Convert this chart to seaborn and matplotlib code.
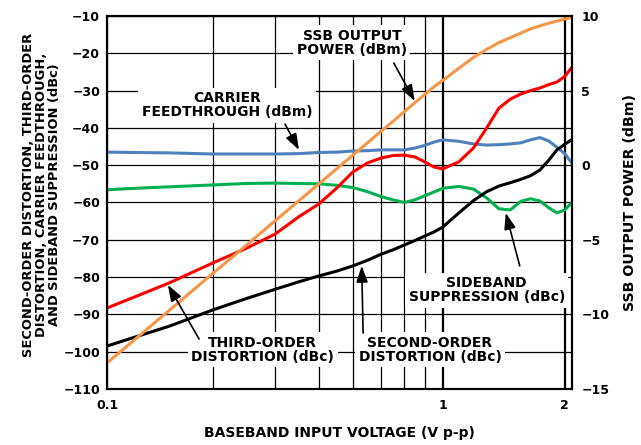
import matplotlib
matplotlib.use("Agg")
import matplotlib.pyplot as plt
from matplotlib.ticker import FixedLocator, FixedFormatter, NullFormatter
import seaborn as sns

# baseband input voltage (V p-p)
vpp = [0.1, 0.12, 0.15, 0.2, 0.25, 0.3, 0.35, 0.4, 0.45, 0.5,
       0.55, 0.6, 0.65, 0.7, 0.75, 0.8, 0.85, 0.9, 1.0, 1.1,
       1.2, 1.3, 1.4, 1.5, 1.6, 1.7, 1.8, 1.9, 2.0, 2.09]

# right axis (dBm)
ssb_power = [-13.26, -11.68, -9.75, -7.25, -5.33, -3.74, -2.41, -1.25, -0.23, 0.68,
             1.50, 2.26, 2.94, 3.59, 4.19, 4.75, 5.26, 5.68, 6.50, 7.22,
             7.77, 8.22, 8.55, 8.85, 9.14, 9.34, 9.52, 9.66, 9.80, 9.91]

# left axis (dBc / dBm)
third_order = [-88.3, -85.3, -81.6, -76.2, -72.2, -68.5, -63.9, -60.4, -56.1, -51.8,
               -49.4, -48.1, -47.4, -47.3, -47.8, -49.1, -50.5, -51.0, -49.1, -45.4,
               -40.0, -34.7, -32.3, -30.9, -30.0, -29.3, -28.4, -27.7, -26.2, -23.9]
carrier = [-46.5, -46.6, -46.7, -47.0, -47.0, -47.0, -46.9, -46.6, -46.5, -46.2,
           -46.1, -45.9, -45.9, -45.9, -45.4, -44.7, -43.8, -43.2, -43.6, -44.3,
           -44.6, -44.5, -44.3, -44.0, -43.2, -42.6, -43.5, -45.2, -46.9, -49.3]
sideband = [-56.6, -56.2, -55.8, -55.3, -54.9, -54.8, -54.9, -55.0, -55.4, -56.0,
            -57.1, -58.4, -59.3, -60.0, -59.3, -58.2, -57.2, -56.2, -55.7, -56.4,
            -58.8, -61.7, -62.0, -59.7, -59.0, -59.6, -61.4, -62.8, -62.0, -60.1]
second_order = [-98.5, -96.1, -93.2, -88.8, -85.7, -83.3, -81.3, -79.7, -78.4, -77.0,
                -75.5, -73.9, -72.7, -71.4, -70.2, -69.0, -67.9, -66.6, -62.8, -59.5,
                -57.1, -55.6, -54.7, -53.8, -52.8, -51.3, -48.7, -45.9, -44.4, -43.2]

sns.set_style("white")
plt.rcParams["font.family"] = ["DejaVu Sans"]
plt.rcParams["font.weight"] = "bold"
plt.rcParams["axes.labelweight"] = "bold"
plt.rcParams["text.color"] = "black"
plt.rcParams["axes.labelcolor"] = "black"
plt.rcParams["xtick.color"] = "black"
plt.rcParams["ytick.color"] = "black"

fig, ax = plt.subplots(figsize=(6.41, 4.45), dpi=100)
fig.subplots_adjust(left=0.167, right=0.892, top=0.964, bottom=0.126)

ax.set_xscale("log")
ax.set_xlim(0.1, 2.094)
ax.set_ylim(-110, -10)
ax.set_yticks(range(-110, 0, 10))

# the source chart draws 0.2..0.8 then a heavy line it labels "1"
ax.xaxis.set_major_locator(FixedLocator([0.1, 0.9, 2]))
ax.xaxis.set_major_formatter(FixedFormatter(["0.1", "1", "2"]))
ax.xaxis.set_minor_locator(FixedLocator([0.2, 0.3, 0.4, 0.5, 0.6, 0.7, 0.8]))
ax.xaxis.set_minor_formatter(NullFormatter())
ax.grid(which="major", axis="y", color="black", lw=0.9)
ax.grid(which="minor", axis="x", color="black", lw=0.9)
ax.grid(which="major", axis="x", color="black", lw=1.6)
ax.tick_params(which="both", length=0, labelsize=9, labelcolor="black")
ax.tick_params(axis="x", pad=7)
ax.tick_params(axis="y", pad=5)

lw = 2.2
sns.lineplot(x=vpp, y=carrier, ax=ax, color="#4F81BD", lw=lw)
sns.lineplot(x=vpp, y=sideband, ax=ax, color="#00B050", lw=lw)
sns.lineplot(x=vpp, y=second_order, ax=ax, color="black", lw=lw)
sns.lineplot(x=vpp, y=third_order, ax=ax, color="#FF0000", lw=lw)

ax2 = ax.twinx()
ax2.set_ylim(-15, 10)
ax2.set_yticks([-15, -10, -5, 0, 5, 10])
ax2.tick_params(length=0, labelsize=9, pad=7, labelcolor="black")
sns.lineplot(x=vpp, y=ssb_power, ax=ax2, color="#F79646", lw=lw)
ax2.grid(False)

for a in (ax, ax2):
    for s in a.spines.values():
        s.set_color("black")
        s.set_linewidth(1.5)

ax.set_xlabel("BASEBAND INPUT VOLTAGE (V p-p)", fontsize=10, color="black")
ax.xaxis.set_label_coords(0.5, -0.1)
ax.set_ylabel("SECOND-ORDER DISTORTION, THIRD-ORDER\nDISTORTION, CARRIER FEEDTHROUGH,\n"
              "AND SIDEBAND SUPPRESSION (dBc)", fontsize=9.4, linespacing=0.98, color="black")
ax.yaxis.set_label_coords(-0.1, 0.52)
ax2.set_ylabel("SSB OUTPUT POWER (dBm)", fontsize=10.2, color="black")
ax2.yaxis.set_label_coords(1.11, 0.5)

box = dict(boxstyle="square,pad=0.25", facecolor="white", edgecolor="none")
labels = [
    ("CARRIER\nFEEDTHROUGH (dBm)", (0.258, 0.761), (0.383, 0.710), (0.413, 0.641)),
    ("SSB OUTPUT\nPOWER (dBm)", (0.527, 0.928), (0.617, 0.874), (0.662, 0.772)),
    ("THIRD-ORDER\nDISTORTION (dBc)", (0.335, 0.105), (0.198, 0.134), (0.131, 0.279)),
    ("SECOND-ORDER\nDISTORTION (dBc)", (0.695, 0.105), (0.551, 0.150), (0.548, 0.330)),
    ("SIDEBAND\nSUPPRESSION (dBc)", (0.817, 0.265), (0.888, 0.330), (0.858, 0.472)),
]
for text, pos, tail, tip in labels:
    ax2.text(pos[0], pos[1], text, transform=ax2.transAxes, ha="center", va="center",
             fontsize=10, linespacing=1.0, color="black", bbox=box, zorder=5)
    ax2.annotate("", xy=tip, xytext=tail, xycoords="axes fraction", textcoords="axes fraction",
                 arrowprops=dict(arrowstyle="-|>,head_length=0.7,head_width=0.25", color="black",
                                 lw=1.2, mutation_scale=14, shrinkA=0, shrinkB=0), zorder=6)

plt.savefig("out.png", dpi=100)
